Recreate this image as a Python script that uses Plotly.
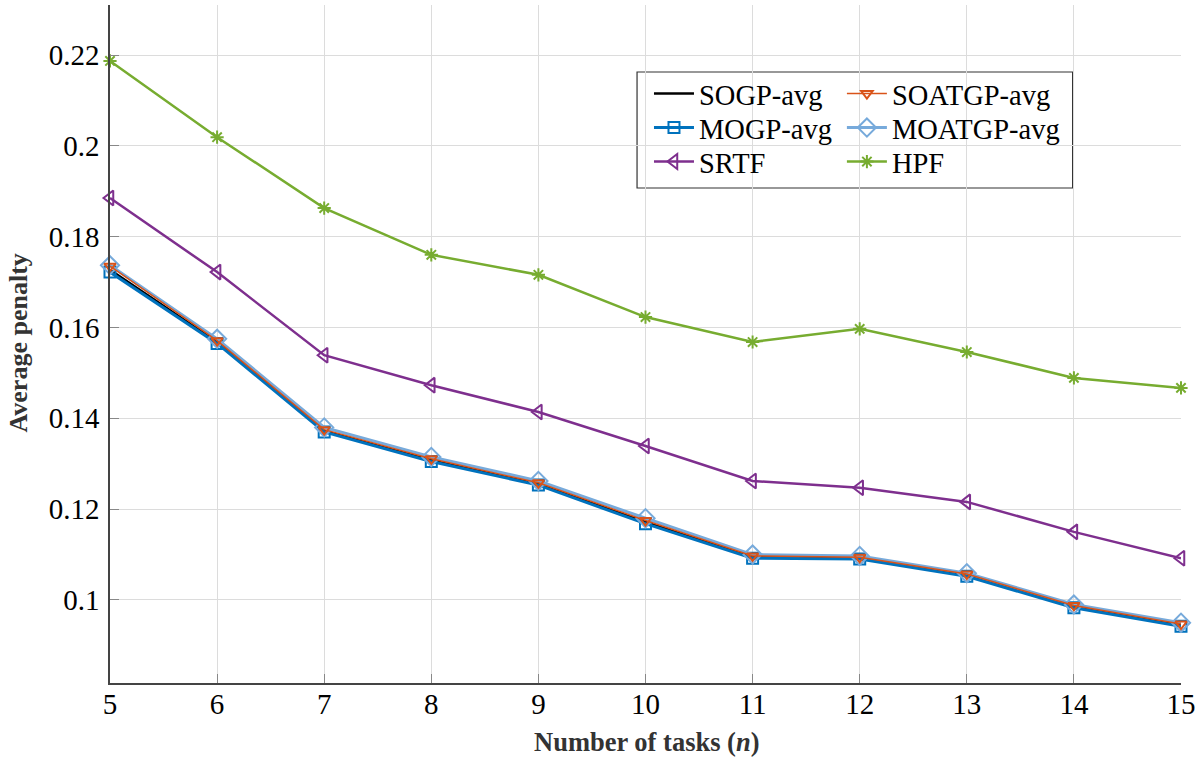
import plotly.graph_objects as go

tasks = [5, 6, 7, 8, 9, 10, 11, 12, 13, 14, 15]
sogp_avg = [0.1727, 0.1568, 0.1372, 0.1308, 0.1255, 0.1172, 0.1095, 0.1092, 0.1055, 0.0985, 0.0945]
soatgp_avg = [0.1735, 0.1571, 0.1375, 0.1311, 0.1258, 0.1175, 0.1097, 0.1094, 0.1057, 0.0988, 0.0947]
mogp_avg = [0.1722, 0.1565, 0.1370, 0.1305, 0.1253, 0.1168, 0.1092, 0.1090, 0.1052, 0.0983, 0.0942]
moatgp_avg = [0.1737, 0.1575, 0.1380, 0.1315, 0.1262, 0.1180, 0.1100, 0.1097, 0.1059, 0.0990, 0.0950]
srtf = [0.1885, 0.1722, 0.1539, 0.1473, 0.1414, 0.1339, 0.1262, 0.1247, 0.1216, 0.1150, 0.1092]
hpf = [0.2187, 0.2019, 0.1863, 0.1760, 0.1716, 0.1623, 0.1568, 0.1597, 0.1546, 0.1489, 0.1467]

y_ticks = [0.1, 0.12, 0.14, 0.16, 0.18, 0.2, 0.22]
y_tick_text = ["0.1", "0.12", "0.14", "0.16", "0.18", "0.2", "0.22"]

FONT = "Liberation Serif, Times New Roman, serif"

# plot area in pixels
L, R, T, B = 110, 1187, 5, 683
W, H = 1201, 757
PW, PH = R - L, B - T

def px(xp):
    return (xp - L) / PW

def py(yp):
    return (B - yp) / PH

fig = go.Figure()

def add(name, y, color, symbol, size, legend, lw=2.5):
    fig.add_trace(go.Scatter(
        x=tasks, y=y, name=name, mode="lines+markers" if symbol else "lines",
        line=dict(color=color, width=lw),
        marker=dict(symbol=symbol or "circle", size=size, color=color,
                    line=dict(color=color, width=2)),
        legend=legend, cliponaxis=False,
    ))

add("SOGP-avg", sogp_avg, "#000000", None, 0, "legend")
add("MOGP-avg", mogp_avg, "#0072BD", "square-open", 11, "legend3", lw=3)
add("MOATGP-avg", moatgp_avg, "#77AADB", "diamond-open", 14, "legend4", lw=3)
add("SOATGP-avg", soatgp_avg, "#D95319", "triangle-down-open", 10, "legend2", lw=1.5)
add("SRTF", srtf, "#7E2F8E", "triangle-left-open", 13, "legend5")
add("HPF", hpf, "#77AC30", "asterisk-open", 11, "legend6")

def leg(xpix, ypix):
    return dict(
        font=dict(family=FONT, size=28.5, color="#000000"),
        bgcolor="rgba(0,0,0,0)", borderwidth=0,
        xanchor="left", yanchor="middle", orientation="v",
        x=px(xpix), y=py(ypix), itemsizing="trace", itemwidth=40,
    )

rows = [94, 128, 162]
colx = [652, 846]

fig.update_layout(
    width=W, height=H,
    margin=dict(l=L, r=W - R, t=T, b=H - B),
    paper_bgcolor="white", plot_bgcolor="white",
    font=dict(family=FONT, size=28, color="#000000"),
    showlegend=True,
    legend=leg(colx[0], rows[0]),
    legend2=leg(colx[1], rows[0]),
    legend3=leg(colx[0], rows[1]),
    legend4=leg(colx[1], rows[1]),
    legend5=leg(colx[0], rows[2]),
    legend6=leg(colx[1], rows[2]),
    xaxis=dict(
        range=[5, 15], tickvals=tasks, ticktext=[str(t) for t in tasks],
        showgrid=True, gridcolor="#dcdcdc", gridwidth=1,
        showline=True, linecolor="#444444", linewidth=1.5,
        ticks="inside", ticklen=9, tickcolor="#888888", tickwidth=1,
        tickfont=dict(family=FONT, size=29, color="#000000"),
        ticklabelstandoff=-6, ticklabeloverflow="allow",
        zeroline=False,
    ),
    yaxis=dict(
        range=[0.08172, 0.23101], tickvals=y_ticks, ticktext=y_tick_text,
        showgrid=True, gridcolor="#dcdcdc", gridwidth=1,
        showline=True, linecolor="#444444", linewidth=1.5,
        ticks="inside", ticklen=9, tickcolor="#888888", tickwidth=1,
        tickfont=dict(family=FONT, size=29, color="#000000"),
        ticklabelstandoff=3, ticklabeloverflow="allow",
        zeroline=False,
    ),
    annotations=[
        dict(text="<b>Number of tasks (<i>n</i>)</b>", xref="paper", yref="paper",
             x=px(650), y=py(742), xanchor="center", yanchor="middle",
             showarrow=False, font=dict(family=FONT, size=26.5, color="#333333")),
        dict(text="<b>Average penalty</b>", xref="paper", yref="paper",
             x=px(17), y=py(343), xanchor="center", yanchor="middle", textangle=-90,
             showarrow=False, font=dict(family=FONT, size=26, color="#333333")),
    ],
    shapes=[dict(type="rect", xref="paper", yref="paper",
                 x0=px(640), x1=px(1078), y0=py(188), y1=py(72),
                 line=dict(color="#333333", width=1.2), fillcolor="white",
                 layer="below")],
)

fig.write_html("out.html", config={"displayModeBar": False},
               post_script="document.body.style.margin='0';document.body.style.padding='0';")
